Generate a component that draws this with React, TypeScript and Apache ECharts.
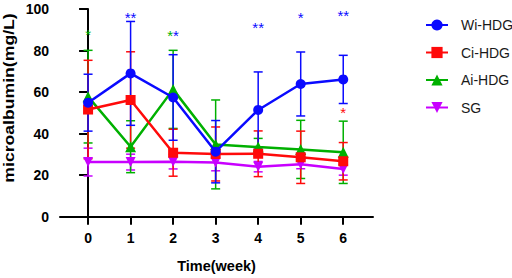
import React, { useEffect, useRef } from "react";
import * as echarts from "echarts";

const weeks = [0, 1, 2, 3, 4, 5, 6];
const groupNames = ["Wi-HDG", "Ci-HDG", "Ai-HDG", "SG"];

const wiMean = [54.9, 69, 57.4, 31.3, 51.4, 63.9, 66.1];
const wiSd = [13.7, 25, 20.6, 15, 18.3, 15.4, 11.6];
const ciMean = [51.6, 56.2, 30.8, 30.2, 30.3, 28.6, 26.7];
const ciSd = [23.7, 23.2, 11.3, 13, 11, 12.6, 9];
const aiMean = [57.8, 33.7, 61.3, 34.8, 33.5, 32.4, 31];
const aiSd = [22.3, 12.5, 18.8, 21.4, 4.2, 14, 15];
const sgMean = [26.3, 26.3, 26.5, 26.1, 24.1, 25.3, 23];
const sgSd = [6.7, 3.8, 3.5, 4, 2.5, 2.2, 3];

// significance marks: [week, y value, text]
const blueStars: [number, number, string][] = [
  [1, 95.7, "**"],
  [2, 87.3, "*"],
  [4, 90.9, "**"],
  [5, 96.1, "*"],
  [6, 96.8, "**"],
];
const greenStars: [number, number, string][] = [
  [0, 87.6, "*"],
  [2, 87.3, "*"],
];
const redStars: [number, number, string][] = [[6, 50.3, "*"]];

const yTicks = { min: 0, max: 100, interval: 20 };

const COLORS = {
  "Wi-HDG": "#0a0aff",
  "Ci-HDG": "#ff0a0a",
  "Ai-HDG": "#00b000",
  SG: "#c800ff",
};

const FONT = "'Liberation Sans', Arial, sans-serif";

export default function App() {
  const ref = useRef<HTMLDivElement>(null);

  useEffect(() => {
    if (!ref.current) return;
    const chart = echarts.init(ref.current, null, { renderer: "svg" });

    const groups = [
      { name: "Wi-HDG", mean: wiMean, sd: wiSd, symbol: "circle", size: 10, rotate: 0, z: 8 },
      { name: "Ci-HDG", mean: ciMean, sd: ciSd, symbol: "rect", size: 10, rotate: 0, z: 7 },
      { name: "Ai-HDG", mean: aiMean, sd: aiSd, symbol: "triangle", size: 11, rotate: 0, z: 6 },
      { name: "SG", mean: sgMean, sd: sgSd, symbol: "triangle", size: 10, rotate: 180, z: 5 },
    ];

    const errorSeries = groups.map((g) => {
      const color = (COLORS as any)[g.name];
      return {
        type: "custom",
        name: g.name + " err",
        z: g.z - 4,
        silent: true,
        data: weeks.map((w, i) => [w, g.mean[i] - g.sd[i], g.mean[i] + g.sd[i]]),
        renderItem: (params: any, api: any) => {
          const x = api.value(0);
          const lo = api.coord([x, api.value(1)]);
          const hi = api.coord([x, api.value(2)]);
          const hw = 4.5;
          const style = { stroke: color, lineWidth: 1.5, fill: "none" };
          return {
            type: "group",
            children: [
              { type: "line", shape: { x1: lo[0], y1: lo[1], x2: hi[0], y2: hi[1] }, style },
              { type: "line", shape: { x1: lo[0] - hw, y1: lo[1], x2: lo[0] + hw, y2: lo[1] }, style },
              { type: "line", shape: { x1: hi[0] - hw, y1: hi[1], x2: hi[0] + hw, y2: hi[1] }, style },
            ],
          };
        },
      };
    });

    const lineSeries = groups.map((g) => {
      const color = (COLORS as any)[g.name];
      return {
        type: "line",
        name: g.name,
        z: g.z,
        data: weeks.map((w, i) => [w, g.mean[i]]),
        symbol: g.symbol,
        symbolSize: g.size,
        symbolRotate: g.rotate,
        showAllSymbol: true,
        lineStyle: { color, width: 2.5 },
        itemStyle: { color },
      };
    });

    const starSeries = (
      data: [number, number, string][],
      color: string,
      name: string
    ) => ({
      type: "custom",
      name,
      z: 10,
      silent: true,
      data,
      renderItem: (params: any, api: any) => {
        const wk = api.value(0);
        const p = api.coord([wk, api.value(1)]);
        const text = data[params.dataIndex][2];
        // shared week: green left, blue right
        const shared =
          blueStars.some((s) => s[0] === wk) && greenStars.some((s) => s[0] === wk);
        let align = "center";
        if (shared) align = color === COLORS["Ai-HDG"] ? "right" : "left";
        return {
          type: "text",
          x: p[0],
          y: p[1],
          style: {
            text,
            fill: color,
            font: `15px ${FONT}`,
            align,
            verticalAlign: "middle",
          },
        };
      },
    });

    const option: any = {
      animation: false,
      backgroundColor: "#ffffff",
      grid: {
        left: 60,
        right: 139,
        top: 9,
        bottom: 61.3,
        outerBoundsMode: "none",
      },
      legend: {
        orient: "vertical",
        left: 420,
        top: 13,
        itemWidth: 22,
        itemHeight: 14,
        itemGap: 13.5,
        data: groupNames,
        textStyle: {
          fontFamily: FONT,
          fontSize: 14,
          color: "#1a1a1a",
          padding: [0, 0, 0, 8],
        },
      },
      xAxis: {
        type: "value",
        min: -0.66,
        max: 6.7,
        name: "Time(week)",
        nameLocation: "middle",
        nameGap: 42,
        nameTextStyle: { fontFamily: FONT, fontSize: 14.5, fontWeight: "bold", color: "#000" },
        axisLine: { show: true, onZero: false, lineStyle: { color: "#000", width: 2 } },
        axisTick: { show: true, length: 8, lineStyle: { color: "#000", width: 2 }, customValues: weeks },
        axisLabel: {
          customValues: weeks,
          margin: 14,
          fontFamily: FONT,
          fontSize: 14,
          fontWeight: "bold",
          color: "#000",
        },
        splitLine: { show: false },
      },
      yAxis: {
        type: "value",
        min: yTicks.min,
        max: yTicks.max,
        interval: yTicks.interval,
        axisLine: { show: true, lineStyle: { color: "#000", width: 2 } },
        axisTick: { show: true, length: 9, lineStyle: { color: "#000", width: 2 } },
        axisLabel: {
          margin: 11,
          fontFamily: FONT,
          fontSize: 14,
          fontWeight: "bold",
          color: "#000",
        },
        splitLine: { show: false },
      },
      graphic: [
        {
          type: "text",
          x: 9,
          y: 98,
          rotation: Math.PI / 2,
          scaleX: 1.26,
          style: {
            text: "microalbumin(mg/L)",
            font: `bold 14px ${FONT}`,
            fill: "#000",
            align: "center",
            verticalAlign: "middle",
          },
        },
      ],
      series: [
        ...errorSeries,
        ...lineSeries,
        starSeries(blueStars, COLORS["Wi-HDG"], "starsBlue"),
        starSeries(greenStars, COLORS["Ai-HDG"], "starsGreen"),
        starSeries(redStars, COLORS["Ci-HDG"], "starsRed"),
      ],
    };

    chart.setOption(option);
    return () => chart.dispose();
  }, []);

  return (
    <div
      ref={ref}
      style={{ position: "fixed", left: 0, top: 0, width: 512, height: 278, background: "#fff" }}
    />
  );
}
